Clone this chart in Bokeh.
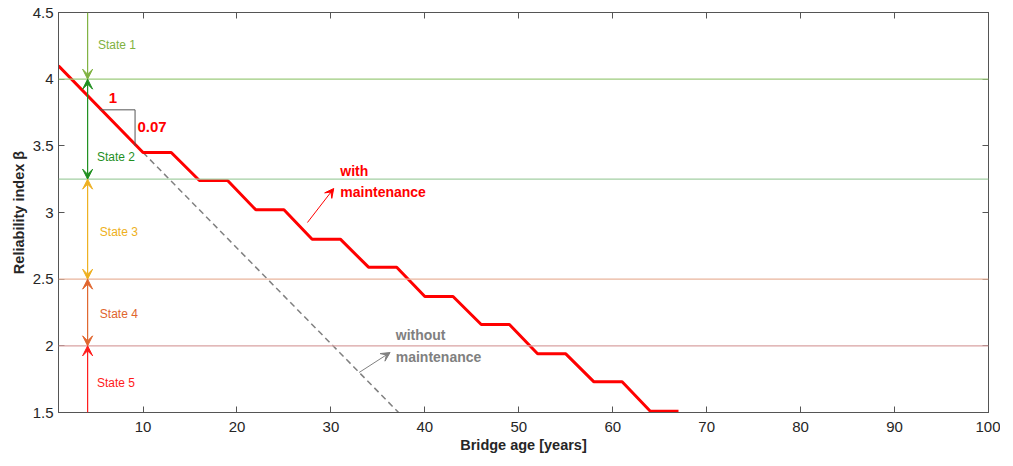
from bokeh.plotting import figure
from bokeh.models import (Range1d, LinearAxis, FixedTicker, Label, Arrow, VeeHead, Span,
                          CustomJSTickFormatter)
from bokeh.embed import file_html
from bokeh.resources import INLINE

# ---- data ----
age_with = [1, 10, 13, 16, 19, 22, 25, 28, 31, 34, 37, 40, 43, 46, 49, 52, 55, 58, 61, 64, 67]
beta_with = [4.10, 3.45, 3.45, 3.24, 3.24, 3.02, 3.02, 2.80, 2.80, 2.59, 2.59, 2.37, 2.37,
             2.16, 2.16, 1.94, 1.94, 1.73, 1.73, 1.51, 1.51]
age_without = [10, 37.2]
beta_without = [3.45, 1.5]
thresholds = [4.0, 3.25, 2.5, 2.0]
threshold_colors = ["#9ccb7c", "#a3cfa3", "#e9b49c", "#d9a2a2"]
state_names = ["State 1", "State 2", "State 3", "State 4", "State 5"]
state_bounds = [(4.5, 4.0), (4.0, 3.25), (3.25, 2.5), (2.5, 2.0), (2.0, 1.5)]
state_colors = ["#7fb241", "#1f8f1f", "#eeb020", "#e0652d", "#ff1a1a"]
state_text_x = [5.2, 5.1, 5.4, 5.4, 5.1]
state_text_y = [4.258, 3.42, 2.852, 2.24, 1.72]
x_ticks = [10, 20, 30, 40, 50, 60, 70, 80, 90, 100]
y_ticks = [1.5, 2.0, 2.5, 3.0, 3.5, 4.0, 4.5]
y_tick_labels = ["1.5", "2", "2.5", "3", "3.5", "4", "4.5"]

FONT = "Liberation Sans"

p = figure(width=1000, height=456, output_backend="svg", toolbar_location=None,
           x_range=Range1d(1, 100), y_range=Range1d(1.5, 4.5),
           min_border_left=58, min_border_right=12, min_border_top=12, min_border_bottom=44)
p.grid.visible = False
p.outline_line_color = "#555555"
p.background_fill_color = "white"

for ax in (p.xaxis[0], p.yaxis[0]):
    ax.major_tick_in = 6
    ax.major_tick_out = 0
    ax.minor_tick_line_color = None
    ax.axis_line_color = "#555555"
    ax.major_tick_line_color = "#555555"
    ax.major_label_text_font = FONT
    ax.major_label_text_font_size = "15px"
    ax.major_label_text_color = "#262626"
    ax.axis_label_text_font = FONT
    ax.axis_label_text_font_size = "14.5px"
    ax.axis_label_text_font_style = "bold"
    ax.axis_label_text_color = "#262626"

p.xaxis.ticker = FixedTicker(ticks=x_ticks)
p.yaxis.ticker = FixedTicker(ticks=y_ticks)
p.yaxis.major_label_overrides = {t: l for t, l in zip(y_ticks, y_tick_labels)}
p.xaxis.axis_label = "Bridge age [years]"
p.yaxis.axis_label = "Reliability index \u03b2"
p.xaxis.major_label_standoff = 9
p.yaxis.major_label_standoff = 5
p.xaxis.axis_label_standoff = 2
p.yaxis.axis_label_standoff = 3

for loc, tk in (("above", x_ticks), ("right", y_ticks)):
    ax = LinearAxis(ticker=FixedTicker(ticks=tk),
                    formatter=CustomJSTickFormatter(code="return ''"))
    ax.major_tick_in = 6
    ax.major_tick_out = 0
    ax.minor_tick_line_color = None
    ax.major_label_standoff = 0
    ax.axis_line_color = "#555555"
    ax.major_tick_line_color = "#555555"
    p.add_layout(ax, loc)

# threshold lines
for yv, c in zip(thresholds, threshold_colors):
    p.add_layout(Span(location=yv, dimension="width", line_color=c, line_width=1.3))

# state arrows and labels
xs_state = 4.1
for i, ((top, bot), c, name, tx, ty) in enumerate(zip(state_bounds, state_colors, state_names,
                                                      state_text_x, state_text_y)):
    head = dict(size=10, fill_color=c, line_color=c)
    if i == 0:
        p.add_layout(Arrow(start=None, end=VeeHead(**head),
                           x_start=xs_state, y_start=top, x_end=xs_state, y_end=bot,
                           line_color=c, line_width=1.2))
    elif i == 4:
        p.add_layout(Arrow(start=None, end=VeeHead(**head),
                           x_start=xs_state, y_start=bot, x_end=xs_state, y_end=top,
                           line_color=c, line_width=1.2))
    else:
        p.add_layout(Arrow(start=VeeHead(**head), end=VeeHead(**head),
                           x_start=xs_state, y_start=top, x_end=xs_state, y_end=bot,
                           line_color=c, line_width=1.2))
    p.add_layout(Label(x=tx, y=ty, text=name, text_color=c, text_font=FONT,
                       text_font_size="12px", text_baseline="middle"))

# curves
p.line(age_without, beta_without, line_color="#808080", line_width=1.5, line_dash="6 4")
p.line(age_with, beta_with, line_color="#ff0000", line_width=3)

# slope triangle
p.line([5.4, 9.15, 9.15], [3.77, 3.77, 3.50], line_color="#555555", line_width=1)
p.add_layout(Label(x=6.8, y=3.86, text="1", text_color="#ff0000", text_font=FONT,
                   text_font_size="15px", text_font_style="bold",
                   text_align="center", text_baseline="middle"))
p.add_layout(Label(x=9.4, y=3.645, text="0.07", text_color="#ff0000", text_font=FONT,
                   text_font_size="15px", text_font_style="bold", text_baseline="middle"))
p.add_layout(Label(x=1, y=4.125, x_offset=-5, text="4.17", text_color="#ff0000", text_font=FONT,
                   text_font_size="16px", text_font_style="bold",
                   text_align="right", text_baseline="middle"))

# annotations
p.add_layout(Arrow(end=VeeHead(size=9, fill_color="#ff0000", line_color="#ff0000"),
                   x_start=27.5, y_start=2.925, x_end=30.3, y_end=3.18,
                   line_color="#ff0000", line_width=1))
p.add_layout(Label(x=31.0, y=3.315, text="with", text_color="#ff0000", text_font=FONT,
                   text_font_size="14px", text_font_style="bold", text_baseline="middle"))
p.add_layout(Label(x=31.0, y=3.152, text="maintenance", text_color="#ff0000", text_font=FONT,
                   text_font_size="14px", text_font_style="bold", text_baseline="middle"))
p.add_layout(Arrow(end=VeeHead(size=9, fill_color="#808080", line_color="#808080"),
                   x_start=33.0, y_start=1.80, x_end=36.3, y_end=1.95,
                   line_color="#808080", line_width=1))
p.add_layout(Label(x=36.9, y=2.085, text="without", text_color="#808080", text_font=FONT,
                   text_font_size="14px", text_font_style="bold", text_baseline="middle"))
p.add_layout(Label(x=36.9, y=1.915, text="maintenance", text_color="#808080", text_font=FONT,
                   text_font_size="14px", text_font_style="bold", text_baseline="middle"))

open("out.html", "w").write(file_html(p, INLINE))
